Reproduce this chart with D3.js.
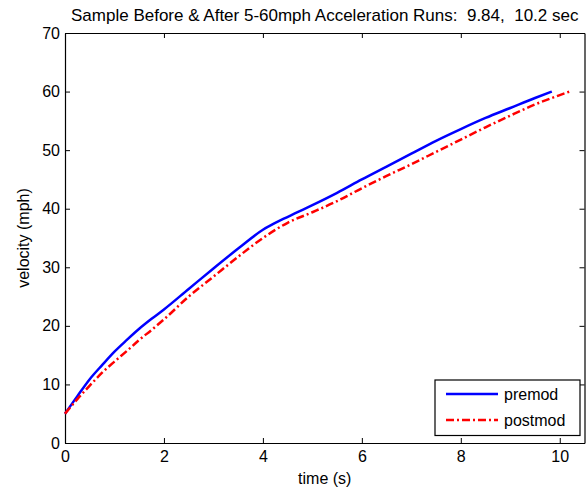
<!DOCTYPE html>
<html>
<head>
<meta charset="utf-8">
<script src="https://cdn.jsdelivr.net/npm/d3@7"></script>
<style>
  body { margin: 0; background: #fff; }
  svg { display: block; font-family: "Liberation Sans", Arial, sans-serif; }
  .axis path, .axis line { stroke: #000; }
  .axis text { fill: #000; font-size: 16px; }
</style>
</head>
<body>
<script>
// premod run (solid blue)
var premodTime = [0, 0.25, 0.5, 0.75, 1.0, 1.25, 1.5, 1.75, 2.0, 2.5, 3.0, 3.5, 4.0, 4.3, 4.7, 5.0, 5.5, 6.0, 6.5, 7.0, 7.5, 8.0, 8.5, 9.0, 9.5, 9.84];
var premodVel  = [5.0, 8.0, 10.9, 13.3, 15.6, 17.6, 19.5, 21.2, 22.8, 26.3, 29.8, 33.2, 36.4, 37.8, 39.4, 40.6, 42.7, 45.0, 47.2, 49.4, 51.6, 53.6, 55.5, 57.2, 58.9, 60.0];
// postmod run (red dash-dot)
var postmodTime = [0, 0.25, 0.5, 0.75, 1.0, 1.25, 1.5, 1.75, 2.0, 2.5, 3.0, 3.5, 4.0, 4.5, 5.0, 5.5, 6.0, 6.5, 7.0, 7.5, 8.0, 8.5, 9.0, 9.5, 10.0, 10.2];
var postmodVel  = [5.0, 7.5, 9.8, 12.0, 13.9, 15.7, 17.6, 19.3, 21.1, 25.0, 28.4, 31.8, 35.0, 37.6, 39.4, 41.3, 43.5, 45.6, 47.6, 49.7, 51.8, 53.9, 55.9, 57.8, 59.4, 60.0];

var xTicks = [0, 2, 4, 6, 8, 10];
var yTicks = [0, 10, 20, 30, 40, 50, 60, 70];
var seriesNames = ["premod", "postmod"];

(function(){
  var width = 586, height = 490;
  var mLeft = 65, mRight = 584.5, mTop = 33, mBottom = 443;

  var svg = d3.select("body").append("svg")
      .attr("width", width)
      .attr("height", height);

  var x = d3.scaleLinear().domain([0, 10.5]).range([mLeft, mRight]);
  var y = d3.scaleLinear().domain([0, 70]).range([mBottom, mTop]);

  // box + inward ticks on all four sides
  svg.append("g").attr("class", "axis")
      .attr("transform", "translate(0," + mBottom + ")")
      .call(d3.axisBottom(x).tickValues(xTicks).tickSize(-5).tickPadding(8).tickSizeOuter(0));
  svg.append("g").attr("class", "axis")
      .attr("transform", "translate(0," + mTop + ")")
      .call(d3.axisTop(x).tickValues(xTicks).tickSize(-5).tickFormat("").tickSizeOuter(0));
  svg.append("g").attr("class", "axis")
      .attr("transform", "translate(" + mLeft + ",0)")
      .call(d3.axisLeft(y).tickValues(yTicks).tickSize(-5).tickPadding(5).tickSizeOuter(0));
  svg.append("g").attr("class", "axis")
      .attr("transform", "translate(" + mRight + ",0)")
      .call(d3.axisRight(y).tickValues(yTicks).tickSize(-5).tickFormat("").tickSizeOuter(0));
  svg.selectAll(".axis .domain").attr("stroke-width", 1.2);

  var line = d3.line()
      .curve(d3.curveMonotoneX)
      .x(d => x(d[0]))
      .y(d => y(d[1]));

  var premod = premodTime.map((t, i) => [t, premodVel[i]]);
  var postmod = postmodTime.map((t, i) => [t, postmodVel[i]]);

  svg.append("path")
      .datum(premod)
      .attr("d", line)
      .attr("fill", "none")
      .attr("stroke", "#0000ff")
      .attr("stroke-width", 2.5);

  svg.append("path")
      .datum(postmod)
      .attr("d", line)
      .attr("fill", "none")
      .attr("stroke", "#ff0000")
      .attr("stroke-width", 2.5)
      .attr("stroke-dasharray", "8,3,2,3");

  // title and axis labels
  svg.append("text")
      .attr("x", (mLeft + mRight) / 2)
      .attr("y", 21)
      .attr("text-anchor", "middle")
      .attr("xml:space", "preserve")
      .style("font-size", "17px")
      .text("Sample Before & After 5-60mph Acceleration Runs:  9.84,  10.2 sec");

  svg.append("text")
      .attr("x", (mLeft + mRight) / 2)
      .attr("y", 484)
      .attr("text-anchor", "middle")
      .style("font-size", "16px")
      .text("time (s)");

  svg.append("text")
      .attr("transform", "translate(29," + ((mTop + mBottom) / 2) + ") rotate(-90)")
      .attr("text-anchor", "middle")
      .style("font-size", "16px")
      .text("velocity (mph)");

  // legend
  var legend = svg.append("g");
  legend.append("rect")
      .attr("x", 435).attr("y", 380)
      .attr("width", 145).attr("height", 55.5)
      .attr("fill", "#fff")
      .attr("stroke", "#000")
      .attr("stroke-width", 1.2);

  var legendStyles = [
    {color: "#0000ff", dash: null},
    {color: "#ff0000", dash: "8,3,2,3"}
  ];
  seriesNames.forEach(function(name, i){
    var ly = 394 + i * 26;
    legend.append("line")
        .attr("x1", 446).attr("x2", 498)
        .attr("y1", ly).attr("y2", ly)
        .attr("stroke", legendStyles[i].color)
        .attr("stroke-width", 2.5)
        .attr("stroke-dasharray", legendStyles[i].dash);
    legend.append("text")
        .attr("x", 504)
        .attr("y", ly + 6)
        .style("font-size", "16px")
        .text(name);
  });
})();
</script>
</body>
</html>
